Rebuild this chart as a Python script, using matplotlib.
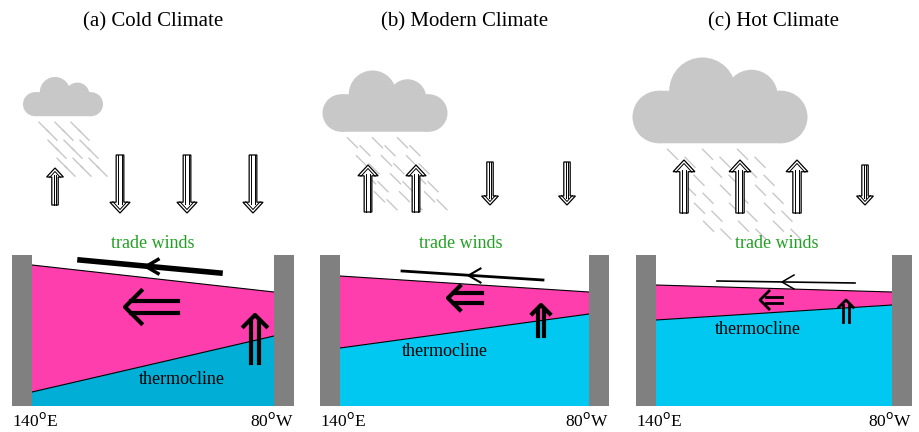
import numpy as np
import matplotlib.pyplot as plt
from matplotlib.patches import Polygon, Circle, FancyBboxPatch

plt.rcParams['font.family'] = ['Liberation Serif', 'DejaVu Serif']

# panel settings (pixel units of a 920x432 canvas)
titles = ["(a) Cold Climate", "(b) Modern Climate", "(c) Hot Climate"]
x0s = [12, 320, 636]            # left wall position
x1s = [274, 589, 892]           # right wall position
sea_left = [265, 276, 285]      # sea surface depth at west / east
sea_right = [292, 292, 292]
thermo_left = [392, 348, 320]   # thermocline depth at west / east
thermo_right = [336, 314, 305]
deep_colors = ["#00AED6", "#00C8F0", "#00C8F0"]
wind = [((80, 260), (220, 273), 4.0), ((402, 271), (543, 280), 2.0), ((717, 281), (855, 283), 1.2)]
west_arrow = [(125, 178, 307, 3.0), (448, 482, 298, 3.0), (760, 782, 300, 2.0)]
up_arrow = [(255, 315, 363, 3.0), (541, 305, 336, 3.0), (846, 300, 322, 2.0)]
thermo_txt = [(182, 380), (445, 352), (758, 330)]
# atmosphere arrows: (x, top, bottom, direction)
atm = [[(55, 168, 205, 1), (120, 155, 213, -1), (187, 155, 213, -1), (253, 155, 213, -1)],
       [(368, 165, 212, 1), (416, 165, 212, 1), (490, 162, 205, -1), (567, 162, 205, -1)],
       [(684, 160, 213, 1), (740, 160, 213, 1), (797, 160, 213, 1), (865, 165, 205, -1)]]
clouds = [(63, 101, 80), (385, 108, 125), (720, 110, 175)]  # centre x, centre y, width

fig = plt.figure(figsize=(9.2, 4.32), dpi=100)
ax = fig.add_axes([0, 0, 1, 1])
ax.set_xlim(0, 920)
ax.set_ylim(432, 0)
ax.axis('off')

GREY = "#C8C8C8"


def hollow_arrow(x, top, bot, d, w):
    s = w * 0.16
    h = w * 0.42
    hl = w * 0.45
    if d == 1:
        tip, tail, sgn = top, bot, 1
    else:
        tip, tail, sgn = bot, top, -1
    neck = tip + sgn * hl
    outer = [(x - s, tail), (x - s, neck), (x - h, neck), (x, tip), (x + h, neck), (x + s, neck), (x + s, tail)]
    ax.add_patch(Polygon(outer, closed=True, fc='white', ec='black', lw=0.9, zorder=5))
    ax.plot([x - s * 0.45, x - s * 0.45], [tail, neck - sgn * 2], color='black', lw=0.7, zorder=6)
    ax.plot([x + s * 0.45, x + s * 0.45], [tail, neck - sgn * 2], color='black', lw=0.7, zorder=6)
    ax.plot([x - h + 3, x, x + h - 3], [neck + sgn * 0.5, tip + sgn * 3.5, neck + sgn * 0.5],
            color='black', lw=0.7, zorder=6)


def cloud(cx, cy, w):
    bottom = cy + 0.19 * w
    ph = 0.3 * w
    r = ph / 2
    ax.add_patch(FancyBboxPatch((cx - w / 2 + r, bottom - ph + 0.01), w - 2 * r, ph - 0.02,
                                boxstyle="round,pad=0,rounding_size=%f" % 1, fc=GREY, ec='none', zorder=2))
    ax.add_patch(Circle((cx - w / 2 + r, bottom - r), r, fc=GREY, ec='none', zorder=2))
    ax.add_patch(Circle((cx + w / 2 - r, bottom - r), r, fc=GREY, ec='none', zorder=2))
    ax.add_patch(Circle((cx - 0.1 * w, bottom - 0.3 * w), 0.19 * w, fc=GREY, ec='none', zorder=2))
    ax.add_patch(Circle((cx + 0.18 * w, bottom - 0.27 * w), 0.15 * w, fc=GREY, ec='none', zorder=2))
    # rain streaks
    cols = np.arange(cx - w * 0.3, cx + w * 0.3, w * 0.1)
    for i, rx in enumerate(cols):
        for j in range(int(w / 40) + 1):
            ry = bottom + 6 + j * 18 + (i % 2) * 8
            ax.plot([rx + j * 9, rx + j * 9 + 10], [ry, ry + 10], color=GREY, lw=1.0, zorder=1)


for k in range(3):
    a, b = x0s[k], x1s[k]
    wl, wr = a + 20, b
    ax.add_patch(Polygon([(wl, sea_left[k]), (wr, sea_right[k]), (wr, thermo_right[k]), (wl, thermo_left[k])],
                         fc="#FF3EAE", ec='none', zorder=2))
    ax.add_patch(Polygon([(wl, thermo_left[k]), (wr, thermo_right[k]), (wr, 406), (wl, 406)],
                         fc=deep_colors[k], ec='none', zorder=2))
    ax.plot([wl, wr], [sea_left[k], sea_right[k]], color='black', lw=0.8, zorder=3)
    ax.plot([wl, wr], [thermo_left[k], thermo_right[k]], color='black', lw=0.8, zorder=3)
    ax.add_patch(Polygon([(a, 255), (a + 20, 255), (a + 20, 406), (a, 406)], fc='#808080', ec='none', zorder=3))
    ax.add_patch(Polygon([(b, 255), (b + 20, 255), (b + 20, 406), (b, 406)], fc='#808080', ec='none', zorder=3))

    (p, q, lw) = wind[k]
    ax.plot([p[0], q[0]], [p[1], q[1]], color='black', lw=lw, zorder=4)
    mx, my = (p[0] + q[0]) / 2, (p[1] + q[1]) / 2
    ax.plot([mx + 8, mx - 4, mx + 8], [my - 7, my, my + 7], color='black', lw=lw * 0.5 + 0.5, zorder=4)
    ax.text(a + 141, 244, "trade winds", color="#22A022", fontsize=13, ha='center', va='center')

    x1, x2, y, lw = west_arrow[k]
    g = (x2 - x1) * 0.09 + 1.5
    ax.plot([x1 + 6, x2], [y - g, y - g], color='black', lw=lw, zorder=4)
    ax.plot([x1 + 6, x2], [y + g, y + g], color='black', lw=lw, zorder=4)
    hs = g * 2.6
    ax.plot([x1 + hs, x1, x1 + hs], [y - hs, y, y + hs], color='black', lw=lw, zorder=4)

    ux, ytop, ybot, lw = up_arrow[k]
    g = (ybot - ytop) * 0.06 + 1.5
    ax.plot([ux - g, ux - g], [ytop + 5, ybot], color='black', lw=lw, zorder=4)
    ax.plot([ux + g, ux + g], [ytop + 5, ybot], color='black', lw=lw, zorder=4)
    hs = g * 2.6
    ax.plot([ux - hs, ux, ux - hs + 2 * hs], [ytop + hs, ytop, ytop + hs], color='black', lw=lw, zorder=4)

    ax.text(thermo_txt[k][0], thermo_txt[k][1], "thermocline", fontsize=13, ha='center', va='center', zorder=5)
    ax.text(a, 421, "140$^{\\rm o}$E", fontsize=12.5, ha='left', va='center')
    ax.text(b + 20, 421, "80$^{\\rm o}$W", fontsize=12.5, ha='right', va='center')
    ax.text((a + b + 20) / 2, 22, titles[k], fontsize=15, ha='center', va='center')

    cx, cy, cw = clouds[k]
    cloud(cx, cy, cw)
    for (x, t, bt, d) in atm[k]:
        hollow_arrow(x, t, bt, d, 26 if k == 2 and d == 1 else (24 if bt - t > 45 else 20))

fig.savefig("out.png", dpi=100)
